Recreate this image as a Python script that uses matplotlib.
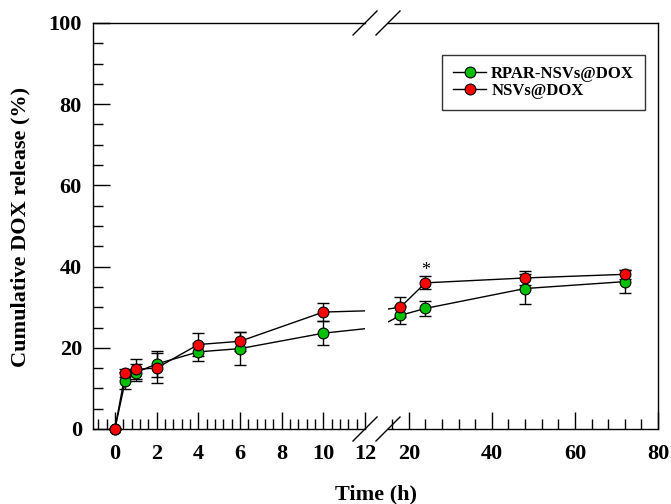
import matplotlib
matplotlib.use("Agg")
import matplotlib.pyplot as plt
from matplotlib.ticker import MultipleLocator
from matplotlib.lines import Line2D

plt.rcParams['font.family'] = ['Liberation Serif', 'DejaVu Serif']
plt.rcParams['font.weight'] = 'bold'

# ---- data ----
time_h = [0, 0.5, 1, 2, 4, 6, 10, 18, 24, 48, 72]
rpar_nsvs = [0, 11.9, 13.9, 16.0, 19.0, 19.8, 23.6, 28.0, 29.7, 34.6, 36.3]
rpar_err = [0, 2.1, 2.0, 3.3, 2.3, 4.1, 3.0, 2.2, 1.8, 3.7, 2.9]
nsvs = [0, 13.8, 14.7, 15.0, 20.8, 21.6, 28.8, 30.0, 36.0, 37.2, 38.1]
nsvs_err = [0, 0.9, 2.5, 3.7, 2.9, 2.3, 2.2, 2.4, 1.6, 1.8, 1.1]
labels = ['RPAR-NSVs@DOX', 'NSVs@DOX']
colors = ['#00c000', '#ff0000']
star_x, star_y = 24, 37.0

W, H = 671, 504
fig = plt.figure(figsize=(W / 100, H / 100), dpi=100)

def fx(px):
    return px / W

def fy(py):
    return 1 - py / H

top, bot = 23, 429
axL = fig.add_axes([fx(93), fy(bot), fx(365) - fx(93), fy(top) - fy(bot)])
axR = fig.add_axes([fx(388), fy(bot), fx(658) - fx(388), fy(top) - fy(bot)])

axL.set_xlim(-1.05, 12)
axR.set_xlim(15, 80)

for ax in (axL, axR):
    lo, hi = ax.get_xlim()
    idx = [i for i, t in enumerate(time_h) if lo <= t <= hi]
    for vals, errs, c in ((rpar_nsvs, rpar_err, colors[0]), (nsvs, nsvs_err, colors[1])):
        ax.errorbar(time_h, vals, yerr=errs, fmt='none', ecolor='black',
                    elinewidth=1.0, capsize=4, capthick=1.0, zorder=2)
        ax.plot(time_h, vals, '-', color='black', lw=1.0, zorder=2.5)
        ax.plot([time_h[i] for i in idx], [vals[i] for i in idx], 'o',
                markersize=7.8, markerfacecolor=c, markeredgecolor='black',
                markeredgewidth=0.8, zorder=3, clip_on=False)
    ax.set_ylim(0, 100)
    for sp in ax.spines.values():
        sp.set_linewidth(1.0)

axL.spines['right'].set_visible(False)
axR.spines['left'].set_visible(False)

axL.xaxis.set_major_locator(MultipleLocator(2))
axL.xaxis.set_minor_locator(MultipleLocator(0.4))
axR.xaxis.set_major_locator(MultipleLocator(20))
axR.xaxis.set_minor_locator(MultipleLocator(4))
axL.yaxis.set_major_locator(MultipleLocator(20))
axL.yaxis.set_minor_locator(MultipleLocator(5))

for ax in (axL, axR):
    ax.tick_params(axis='both', which='major', direction='in', length=12,
                   width=1.0, labelsize=16, top=False, right=False)
    ax.tick_params(axis='both', which='minor', direction='in', length=7,
                   width=1.0, top=False, right=False)
    ax.tick_params(axis='x', which='major', pad=11)
    ax.tick_params(axis='y', which='major', pad=8)
axR.tick_params(axis='y', which='both', left=False, labelleft=False)

axR.text(star_x, star_y, '*', ha='center', va='bottom', fontsize=13,
         fontweight='normal')

# break marks
d = 12
for cx in (365, 388):
    for cy in (top, bot):
        fig.add_artist(Line2D([fx(cx - d), fx(cx + d)], [fy(cy + d), fy(cy - d)],
                              color='black', lw=1.0, transform=fig.transFigure))

fig.text(fx(376), fy(494), 'Time (h)', ha='center', va='center', fontsize=16)
fig.text(fx(20), fy(227), 'Cumulative DOX release (%)', ha='center', va='center',
         rotation=90, fontsize=16)

handles = [Line2D([0], [0], color='black', lw=1.0, marker='o', markersize=7.8,
                  markerfacecolor=c, markeredgecolor='black', markeredgewidth=0.8)
           for c in colors]
leg = axR.legend(handles, labels, loc='upper left',
                 bbox_to_anchor=((442 - 388) / 270, (429 - 55) / 406),
                 fontsize=12, frameon=True, fancybox=False, edgecolor='black',
                 handlelength=2.0, handletextpad=0.3, borderpad=0.65,
                 labelspacing=0.05, borderaxespad=0)
leg.get_frame().set_linewidth(1.0)

fig.savefig('out.png', dpi=100)
